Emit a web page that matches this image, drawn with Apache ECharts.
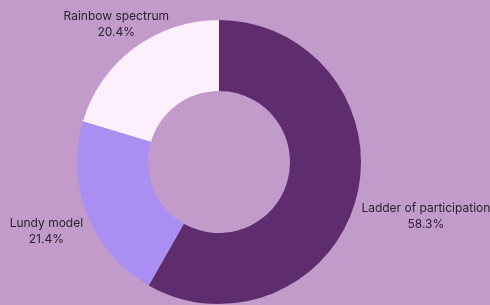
<!DOCTYPE html>
<html><head><meta charset="utf-8">
<script src="https://cdn.jsdelivr.net/npm/echarts@6/dist/echarts.min.js"></script>
<style>html,body{margin:0;padding:0;background:#c29bcb}#c{width:490px;height:305px}</style>
</head><body><div id="c"></div>
<script>
const categories = ["Ladder of participation", "Lundy model", "Rainbow spectrum"];
const values = [58.3, 21.4, 20.4];
const colors = ["#5f2d6e", "#ab8ef2", "#fdf0fc"];
const labelRadius = [214, 186, 172];
const CX = 219, CY = 162;
const total = values.reduce((a, b) => a + b, 0);
const midAngles = [];
let acc = 0;
values.forEach(v => { midAngles.push((acc + v / 2) / total * 2 * Math.PI); acc += v; });

const chart = echarts.init(document.getElementById('c'));
chart.setOption({
  backgroundColor: '#c29bcb',
  series: [{
    type: 'pie',
    center: [CX, CY],
    radius: [71, 142],
    startAngle: 90,
    clockwise: true,
    animation: false,
    avoidLabelOverlap: false,
    data: categories.map((n, i) => ({name: n, value: values[i], itemStyle: {color: colors[i]}})),
    label: {
      show: true,
      formatter: p => '{a|' + p.name + '}\n{a|' + p.value.toFixed(1) + '%}',
      rich: { a: { align: 'center', color: '#2a2230', fontSize: 12, lineHeight: 16, fontFamily: 'Inter, sans-serif' } },
      color: '#2a2230',
      fontSize: 12,
      lineHeight: 16,
      fontFamily: 'Inter, sans-serif'
    },
    labelLine: {show: false},
    labelLayout: function (p) {
      const i = p.dataIndex;
      const a = midAngles[i];
      return {
        x: CX + labelRadius[i] * Math.sin(a),
        y: CY - labelRadius[i] * Math.cos(a),
        align: 'center',
        verticalAlign: 'middle'
      };
    }
  }]
});
</script></body></html>
